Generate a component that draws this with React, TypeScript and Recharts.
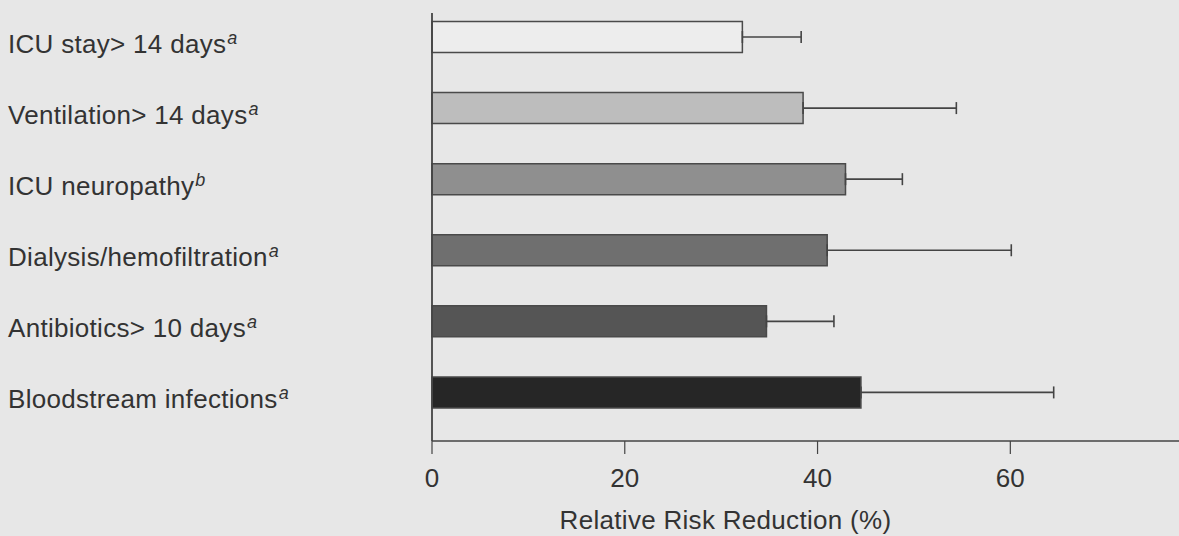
import React from "react";
import { Bar, BarChart, Cell, ErrorBar, XAxis, YAxis } from "recharts";

const categorias = [
  "ICU stay> 14 days",
  "Ventilation> 14 days",
  "ICU neuropathy",
  "Dialysis/hemofiltration",
  "Antibiotics> 10 days",
  "Bloodstream infections"
];
const notas = ["a", "a", "b", "a", "a", "a"];
const reduccion = [32.2, 38.5, 42.9, 41.0, 34.7, 44.5];
const limiteSuperior = [38.3, 54.4, 48.8, 60.1, 41.7, 64.5];
const rellenos = ["#ededed", "#bdbdbd", "#8f8f8f", "#6f6f6f", "#555555", "#262626"];
const ticksX = [0, 20, 40, 60];

const datos = categorias.map((nombre, i) => ({
  nombre,
  nota: notas[i],
  valor: reduccion[i],
  error: [0, limiteSuperior[i] - reduccion[i]]
}));

const fuente = "'Liberation Sans', Arial, Helvetica, sans-serif";

const EtiquetaY = (props: any) => {
  const { y, payload, index } = props;
  return (
    <text
      x={8}
      y={y + 6.5}
      dy="0.355em"
      fill="#333"
      fontSize={26}
      letterSpacing={0.3}
      fontFamily={fuente}
      textAnchor="start">
      {payload.value}
      <tspan fontStyle="italic" fontSize={18} dx={1} dy={-9}>
        {notas[index]}
      </tspan>
    </text>
  );
};

export default function App() {
  return (
    <div style={{ width: 1179, height: 536, background: "#e7e7e7" }}>
      <style>{`body{margin:0;background:#e7e7e7}`}</style>
      <BarChart
        width={1179}
        height={536}
        data={datos}
        layout="vertical"
        margin={{ top: 13, right: 0, bottom: 0, left: 0 }}>
        <XAxis
          type="number"
          domain={[0, 77.5]}
          ticks={ticksX}
          height={95}
          stroke="#444"
          tickSize={13}
          tickMargin={15}
          tick={{ fill: "#333", fontSize: 26, fontFamily: fuente }}
          axisLine={{ stroke: "#444", strokeWidth: 1.5 }}
          tickLine={{ stroke: "#444", strokeWidth: 1.2 }}
          label={{
            value: "Relative Risk Reduction (%)",
            position: "insideBottom",
            offset: 7,
            dx: -80,
            fill: "#333",
            fontSize: 26,
            letterSpacing: 0.3,
            fontFamily: fuente
          }}
        />
        <YAxis
          type="category"
          dataKey="nombre"
          width={432}
          padding={{ top: -11.5, bottom: 13 }}
          tickLine={false}
          axisLine={{ stroke: "#444", strokeWidth: 1.8 }}
          tick={<EtiquetaY />}
        />
        <Bar dataKey="valor" barSize={31} isAnimationActive={false}>
          {datos.map((d, i) => (
            <Cell key={d.nombre} fill={rellenos[i]} stroke="#4a4a4a" strokeWidth={1.5} />
          ))}
          <ErrorBar dataKey="error" direction="x" width={6} stroke="#444" strokeWidth={1.6} isAnimationActive={false} />
        </Bar>
      </BarChart>
    </div>
  );
}
